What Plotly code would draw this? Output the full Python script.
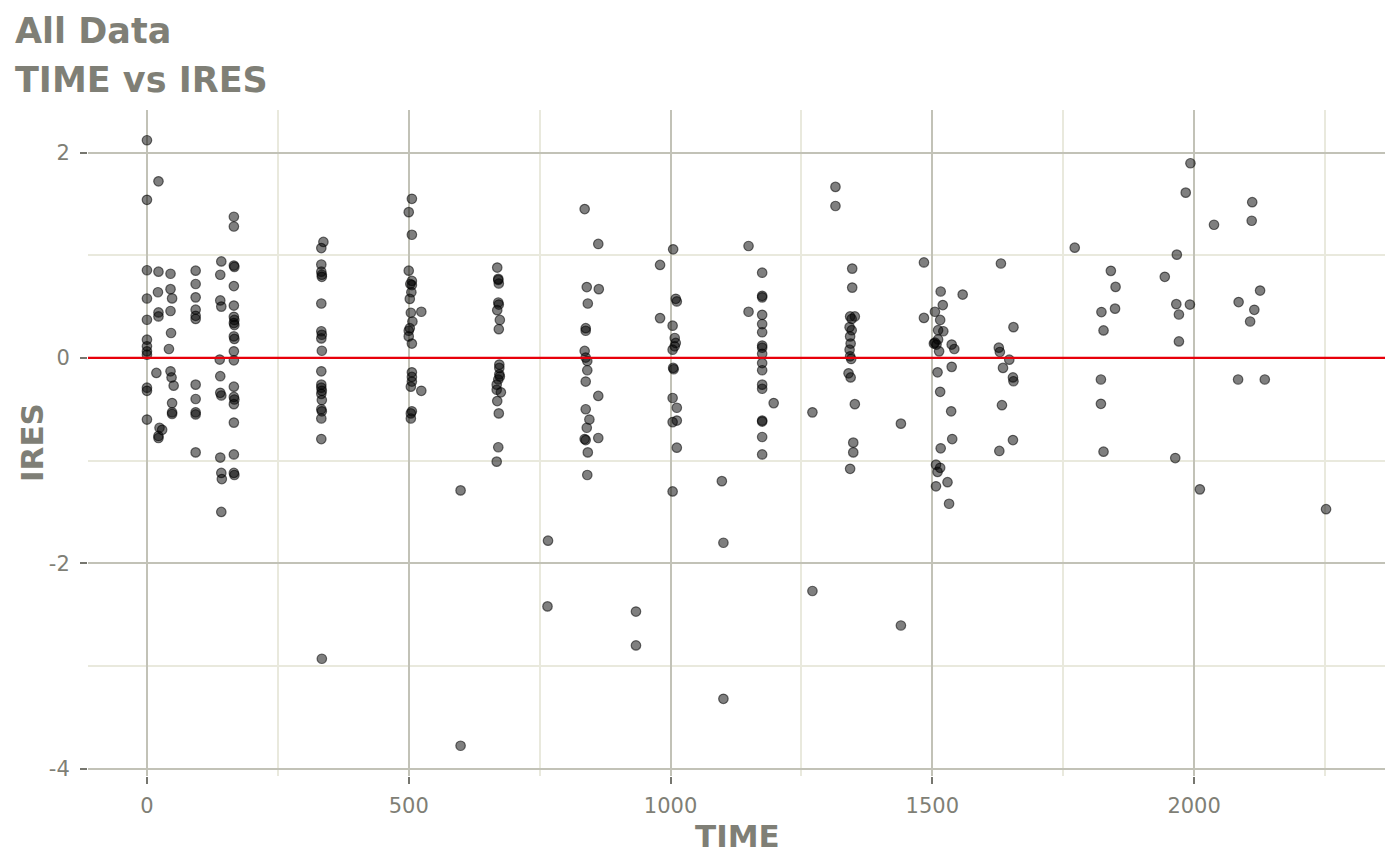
import plotly.graph_objects as go

# ---- data (TIME, IRES pairs) ----
TIME = [
    0, 0, 0, 0, 0, 0, 0, 0, 0, 0, 0, 0,
    22, 22, 21, 22, 22, 18, 24, 29, 22, 22,
    45, 45, 48, 45, 46, 42, 45, 47, 51, 48, 48, 48,
    93, 93, 93, 93, 93, 93, 93, 93, 93, 93, 93,
    142, 140, 140, 142, 139, 140, 140, 142, 140, 142, 143, 142,
    166, 166, 166, 167, 166, 166, 166, 167, 166, 167, 166, 167, 166, 166,
    166, 166, 167, 166, 166, 166, 166, 167,
    337, 333, 333, 333, 334, 334, 333, 333, 334, 333, 334, 333, 333, 333,
    334, 333, 334, 333, 334, 333, 333, 334,
    506, 500, 506, 500, 506, 503, 506, 505, 502, 504, 524, 507, 502, 500,
    500, 506, 506, 506, 506, 504, 524, 506, 504, 504,
    599, 599,
    669, 671, 671, 672, 671, 672, 669, 674, 672, 673, 673, 673, 674, 668,
    671, 668, 676, 669, 672, 671, 668,
    766, 765,
    836, 862, 840, 863, 842, 838, 838, 836, 838, 841, 841, 838, 862, 838,
    845, 840, 836, 838, 862, 842, 841,
    934, 934,
    980, 980,
    1005, 1010, 1012, 1004, 1008, 1010, 1008, 1004, 1005, 1006, 1004, 1012,
    1004, 1012, 1012, 1004,
    1098, 1101, 1101,
    1149, 1149,
    1175, 1175, 1175, 1175, 1175, 1175, 1175, 1175, 1175, 1175, 1175, 1175,
    1175, 1175, 1175, 1175, 1175, 1197,
    1271, 1271,
    1315, 1315,
    1347, 1347, 1343, 1352, 1346, 1342, 1346, 1343, 1344, 1342, 1343, 1345,
    1340, 1344, 1352, 1349, 1349, 1343,
    1440, 1440,
    1484, 1484,
    1516, 1558, 1520, 1505, 1515, 1521, 1511, 1511, 1505, 1503, 1508, 1513,
    1537, 1542, 1537, 1510, 1515, 1536, 1538, 1516, 1507, 1515, 1510, 1529,
    1507, 1532,
    1631, 1655, 1627, 1629, 1647, 1635, 1654, 1655, 1633, 1654, 1628,
    1772,
    1841, 1850, 1823, 1849, 1827, 1822, 1822, 1827,
    1993, 1984, 1967, 1944, 1966, 1992, 1971, 1971, 1964, 2011, 2038,
    2111, 2110, 2126, 2085, 2115, 2107, 2084, 2135,
    2252,
]
IRES = [
    2.12, 1.54, 0.854, 0.579, 0.372, 0.178, 0.113, 0.064, 0.032, -0.29, -0.32, -0.60,
    1.72, 0.84, 0.64, 0.443, 0.404, -0.146, -0.68, -0.70, -0.76, -0.78,
    0.82, 0.67, 0.58, 0.457, 0.243, 0.087, -0.13, -0.19, -0.27, -0.44, -0.53, -0.546,
    0.85, 0.72, 0.59, 0.47, 0.41, 0.38, -0.26, -0.40, -0.53, -0.55, -0.92,
    0.94, 0.81, 0.56, 0.50, -0.016, -0.178, -0.34, -0.366, -0.97, -1.12, -1.18, -1.50,
    1.375, 1.28, 0.90, 0.887, 0.70, 0.51, 0.40, 0.37, 0.34, 0.32, 0.21, 0.185, 0.064, -0.023,
    -0.28, -0.38, -0.405, -0.45, -0.63, -0.94, -1.12, -1.14,
    1.13, 1.07, 0.91, 0.84, 0.81, 0.79, 0.53, 0.26, 0.226, 0.19, 0.07, -0.13, -0.26, -0.29,
    -0.32, -0.35, -0.41, -0.50, -0.52, -0.59, -0.79, -2.93,
    1.55, 1.42, 1.20, 0.85, 0.75, 0.72, 0.71, 0.64, 0.575, 0.44, 0.45, 0.355, 0.29, 0.265,
    0.21, 0.14, -0.14, -0.185, -0.23, -0.28, -0.32, -0.52, -0.54, -0.59,
    -1.29, -3.777,
    0.88, 0.77, 0.76, 0.725, 0.54, 0.52, 0.465, 0.37, 0.28, -0.065, -0.097, -0.16, -0.18, -0.26,
    -0.21, -0.31, -0.335, -0.42, -0.54, -0.87, -1.01,
    -1.78, -2.42,
    1.45, 1.11, 0.69, 0.67, 0.53, 0.29, 0.265, 0.068, 0.004, -0.03, -0.12, -0.23, -0.37, -0.50,
    -0.60, -0.68, -0.79, -0.80, -0.78, -0.92, -1.14,
    -2.47, -2.80,
    0.906, 0.388,
    1.058, 0.576, 0.55, 0.314, 0.194, 0.146, 0.113, 0.08, -0.097, -0.11, -0.39, -0.485,
    -0.625, -0.61, -0.874, -1.30,
    -1.20, -1.80, -3.32,
    1.09, 0.45,
    0.83, 0.605, 0.59, 0.42, 0.33, 0.25, 0.12, 0.10, 0.04, -0.05, -0.12, -0.26,
    -0.30, -0.61, -0.62, -0.77, -0.94, -0.44,
    -0.53, -2.27,
    1.666, 1.48,
    0.87, 0.685, 0.404, 0.404, 0.38, 0.30, 0.27, 0.21, 0.14, 0.08, 0.016, -0.01,
    -0.15, -0.19, -0.45, -0.825, -0.92, -1.08,
    -0.64, -2.606,
    0.93, 0.39,
    0.647, 0.617, 0.515, 0.45, 0.37, 0.26, 0.27, 0.18, 0.15, 0.14, 0.13, 0.064,
    0.13, 0.087, -0.087, -0.14, -0.33, -0.52, -0.79, -0.88, -1.04, -1.07, -1.11, -1.21,
    -1.25, -1.42,
    0.92, 0.30, 0.10, 0.058, -0.017, -0.097, -0.19, -0.227, -0.46, -0.80, -0.906,
    1.074,
    0.848, 0.692, 0.447, 0.48, 0.268, -0.21, -0.447, -0.913,
    1.896, 1.61, 1.006, 0.79, 0.524, 0.52, 0.423, 0.161, -0.975, -1.28, 1.297,
    1.517, 1.336, 0.656, 0.544, 0.469, 0.355, -0.21, -0.21,
    -1.473,
]
X_TICKS = [0, 500, 1000, 1500, 2000]
Y_TICKS = [-4, -2, 0, 2]
REF_LINE = 0

TITLE_1 = "All Data"
TITLE_2 = "TIME vs IRES"
X_LABEL = "TIME"
Y_LABEL = "IRES"

TEXT = "#7f7f76"
MAJOR = "#c2c2b7"
MINOR = "#e9e9dd"
FONT = "DejaVu Sans"

# expanded ranges (5 % either side, as ggplot does)
xmin, xmax = min(TIME), max(TIME)
ymin, ymax = min(IRES), max(IRES)
xpad = (xmax - xmin) * 0.05
ypad = (ymax - ymin) * 0.05

fig = go.Figure()
fig.add_trace(go.Scatter(
    x=TIME, y=IRES, mode="markers",
    marker=dict(size=9.5, color="rgba(0,0,0,0.5)",
                line=dict(color="rgba(0,0,0,0.55)", width=1.2)),
    showlegend=False, hoverinfo="x+y",
))
fig.add_hline(y=REF_LINE, line=dict(color="#e8000b", width=2.2), layer="above")

axis_common = dict(
    showline=False, zeroline=False, showgrid=True,
    gridcolor=MAJOR, gridwidth=2,
    ticks="outside", ticklen=7, tickwidth=2, tickcolor="#76766f",
    tickfont=dict(family=FONT, size=21, color=TEXT),
)
fig.update_xaxes(
    range=[xmin - xpad, xmax + xpad], tickmode="array", tickvals=X_TICKS,
    ticktext=[str(v) for v in X_TICKS],
    minor=dict(dtick=250, tick0=0, showgrid=True, gridcolor=MINOR, gridwidth=2, ticks=""),
    ticklabelstandoff=4,
    **axis_common,
)
fig.update_yaxes(
    range=[ymin - ypad, ymax + ypad], tickmode="array", tickvals=Y_TICKS,
    ticktext=[str(v) for v in Y_TICKS],
    minor=dict(dtick=1, tick0=0, showgrid=True, gridcolor=MINOR, gridwidth=2, ticks=""),
    ticklabelstandoff=6,
    **axis_common,
)

L, R, T, B = 88, 15, 110, 89
W, H = 1400, 865
pw, ph = W - L - R, H - T - B

def px_x(p):
    return (p - L) / pw

def px_y(p):
    return (H - B - p) / ph

bold = dict(family=FONT, size=35, color=TEXT, weight="bold")
fig.add_annotation(text=f"<b>{TITLE_1}</b>", xref="paper", yref="paper",
                   x=px_x(13), y=px_y(31), xanchor="left", yanchor="middle",
                   showarrow=False, font=bold)
fig.add_annotation(text=f"<b>{TITLE_2}</b>", xref="paper", yref="paper",
                   x=px_x(13), y=px_y(80), xanchor="left", yanchor="middle",
                   showarrow=False, font=bold)
axt = dict(family=FONT, size=31, color=TEXT)
fig.add_annotation(text=f"<b>{X_LABEL}</b>", xref="paper", yref="paper",
                   x=px_x(737), y=px_y(836), xanchor="center", yanchor="middle",
                   showarrow=False, font=axt)
fig.add_annotation(text=f"<b>{Y_LABEL}</b>", xref="paper", yref="paper",
                   x=px_x(32), y=px_y(443), xanchor="center", yanchor="middle",
                   textangle=-90, showarrow=False, font=axt)

fig.update_layout(
    width=W, height=H,
    margin=dict(l=L, r=R, t=T, b=B, pad=0),
    paper_bgcolor="white", plot_bgcolor="white",
    font=dict(family=FONT, color=TEXT),
    showlegend=False,
)

fig.write_html(
    "out.html",
    config={"displayModeBar": False},
    post_script="document.body.style.margin='0';document.body.style.padding='0';document.body.style.overflow='hidden';",
)
